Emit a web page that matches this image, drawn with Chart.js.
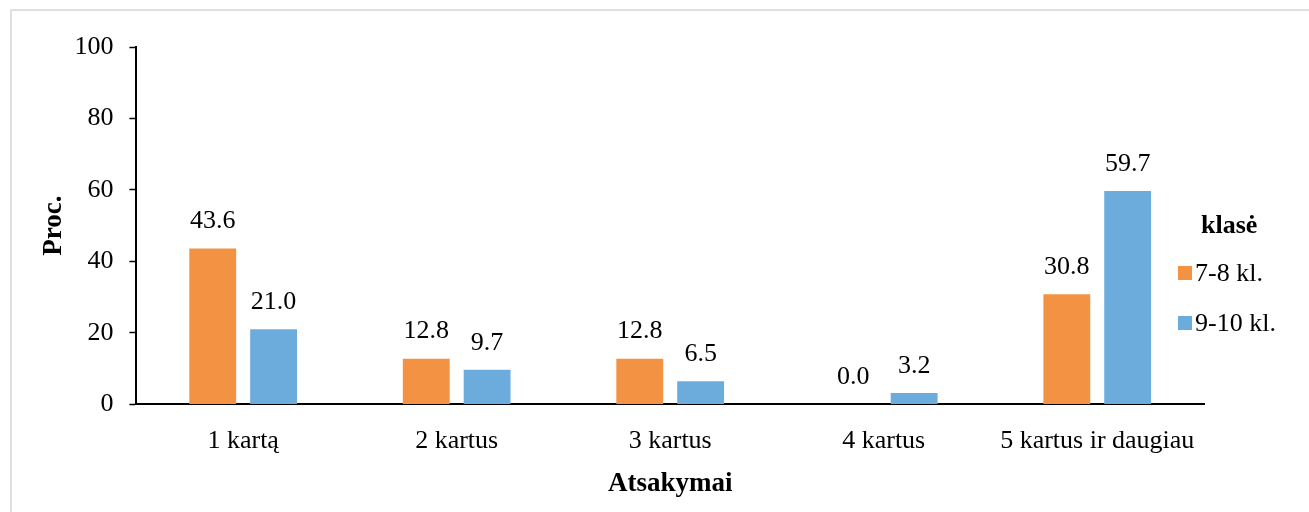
<!DOCTYPE html>
<html>
<head>
<meta charset="utf-8">
<script src="https://cdn.jsdelivr.net/npm/chart.js@4.4.1/dist/chart.umd.min.js"></script>
<style>
  html, body { margin: 0; padding: 0; background: #fff; }
  #frame { position: absolute; left: 10px; top: 9px; width: 1320px; height: 520px; border: 2px solid #e0e0e0; }
  #wrap { position: absolute; left: 0; top: 0; width: 1309px; height: 512px; }
</style>
</head>
<body>
<div id="frame"></div>
<div id="wrap"><canvas id="chart"></canvas></div>
<script>
var categories = ["1 kartą", "2 kartus", "3 kartus", "4 kartus", "5 kartus ir daugiau"];
var seriesNames = ["7-8 kl.", "9-10 kl."];
var values78 = [43.6, 12.8, 12.8, 0.0, 30.8];
var values910 = [21.0, 9.7, 6.5, 3.2, 59.7];
var yTicks = [0, 20, 40, 60, 80, 100];

var FONT = "'Liberation Serif', 'Times New Roman', serif";
var colors = ["#F29242", "#6CACDD"];

// value labels above each bar
var valueLabels = {
    id: "valueLabels",
    afterDatasetsDraw: function (chart) {
        var ctx = chart.ctx;
        ctx.save();
        ctx.font = "26px " + FONT;
        ctx.fillStyle = "#000";
        ctx.textAlign = "center";
        ctx.textBaseline = "middle";
        chart.data.datasets.forEach(function (ds, i) {
            chart.getDatasetMeta(i).data.forEach(function (bar, j) {
                ctx.fillText(ds.data[j].toFixed(1), bar.x, bar.y - 27);
            });
        });
        ctx.restore();
    }
};

// legend on the right with a bold title
var sideLegend = {
    id: "sideLegend",
    afterDraw: function (chart) {
        var ctx = chart.ctx;
        ctx.save();
        ctx.fillStyle = "#000";
        ctx.textBaseline = "middle";
        ctx.textAlign = "left";
        ctx.font = "bold 26px " + FONT;
        ctx.fillText("klasė", 1201, 226);
        ctx.font = "26px " + FONT;
        chart.data.datasets.forEach(function (ds, i) {
            var y = 273 + i * 50;
            ctx.fillStyle = ds.backgroundColor;
            ctx.fillRect(1178, y - 7, 14, 14);
            ctx.fillStyle = "#000";
            ctx.fillText(ds.label, 1195, y + 1);
        });
        ctx.restore();
    }
};

var data = {
    labels: categories,
    datasets: [
        {
            label: seriesNames[0],
            backgroundColor: colors[0],
            data: values78,
            categoryPercentage: 0.57,
            barPercentage: 0.77,
        },
        {
            label: seriesNames[1],
            backgroundColor: colors[1],
            data: values910,
            categoryPercentage: 0.57,
            barPercentage: 0.77,
        },
    ],
};

var options = {
    responsive: true,
    maintainAspectRatio: false,
    animation: false,
    layout: {
        padding: { left: 38, right: 105, top: 47, bottom: 12 },
    },
    plugins: {
        legend: { display: false },
        tooltip: { enabled: false },
    },
    scales: {
        x: {
            grid: { display: false },
            border: { display: true, color: "#000", width: 2 },
            ticks: {
                color: "#000",
                font: { family: FONT, size: 26 },
                padding: 13,
                maxRotation: 0,
            },
            title: {
                display: true,
                text: "Atsakymai",
                color: "#000",
                font: { family: FONT, size: 27, weight: "bold" },
                padding: { top: -2, bottom: 0 },
            },
        },
        y: {
            min: 0,
            max: 100,
            afterBuildTicks: function (scale) {
                scale.ticks = yTicks.map(function (v) { return { value: v }; });
            },
            grid: {
                drawOnChartArea: false,
                drawTicks: true,
                tickLength: 7,
                tickColor: "#000",
                tickWidth: 1.5,
            },
            border: { display: true, color: "#000", width: 2 },
            ticks: {
                color: "#000",
                font: { family: FONT, size: 26 },
                padding: 16,
            },
            title: {
                display: true,
                text: "Proc.",
                color: "#000",
                font: { family: FONT, size: 27, weight: "bold" },
                padding: { top: 0, bottom: -12 },
            },
        },
    },
};

var ctx = document.getElementById("chart").getContext("2d");
var barChart = new Chart(ctx, {
    type: "bar",
    data: data,
    options: options,
    plugins: [valueLabels, sideLegend],
});
</script>
</body>
</html>
